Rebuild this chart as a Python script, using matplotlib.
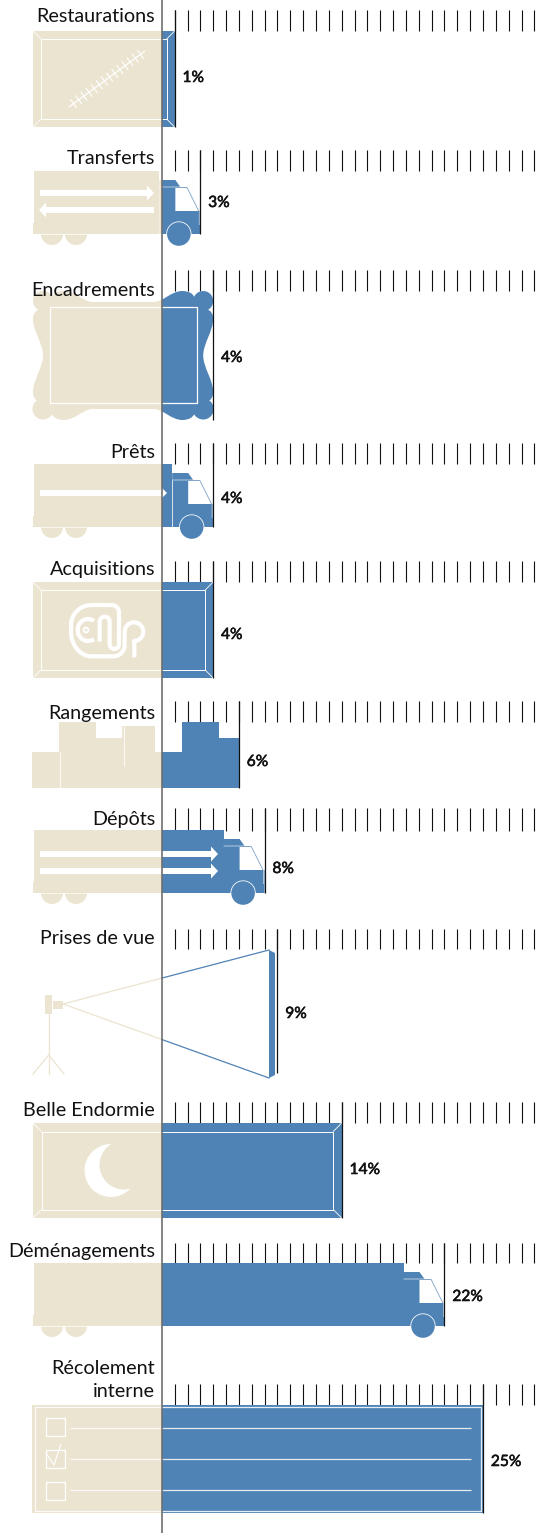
import numpy as np
import matplotlib
matplotlib.use("Agg")
import matplotlib.pyplot as plt
import matplotlib.patheffects as pe
from matplotlib.patches import PathPatch, Rectangle, Polygon
from matplotlib.path import Path
from matplotlib.transforms import Affine2D

# ---- data ----
categories = ["Restaurations", "Transferts", "Encadrements", "Prêts", "Acquisitions",
              "Rangements", "Dépôts", "Prises de vue", "Belle Endormie",
              "Déménagements", "Récolement\ninterne"]
values = [1, 3, 4, 4, 4, 6, 8, 9, 14, 22, 25]
scale_ticks = list(range(1, 30))

# ---- layout (pixels) ----
W, H = 546, 1533
X0, PX = 161.8, 12.85
TICK_TOP = [10, 150, 270, 443, 561, 701, 808, 929, 1102, 1243, 1384]
TICK_BOT = [31, 171, 291, 464, 582, 722, 831, 949, 1123, 1263, 1405]
ROW_BOT = [127, 234, 420, 527, 678, 788, 893, 1073, 1218, 1326, 1513]
LABEL_Y = [17, 159, 290, 452, 570, 713, 819, 939, 1111, 1251, 1380]
VALUE_Y = [78, 203, 358, 499, 635, 762, 869, 1014, 1170, 1297, 1462]
BEIGE, BLUE, WHITE = "#ebe4d1", "#4f83b5", "#ffffff"
INK = "#111111"
FONT = ["Lato", "DejaVu Sans"]

fig = plt.figure(figsize=(W / 100, H / 100), dpi=100)
ax = fig.add_axes([0, 0, 1, 1])
ax.set_xlim(-X0 / PX, (W - X0) / PX)
ax.set_ylim(H, 0)
ax.axis("off")


def u(p):
    return p / PX


def xp(p):
    return (p - X0) / PX


LEFT = xp(33)
left_clip = lambda: Rectangle((ax.get_xlim()[0], 0), -ax.get_xlim()[0], H, transform=ax.transData)
right_clip = lambda: Rectangle((0, 0), ax.get_xlim()[1], H, transform=ax.transData)


def two_tone(path, z=2):
    for col, clip in ((BEIGE, left_clip()), (BLUE, right_clip())):
        p = PathPatch(path, fc=col, ec="none", lw=0, zorder=z)
        ax.add_patch(p)
        p.set_clip_path(clip)


def rect_path(x0, x1, y0, y1):
    return Path([(x0, y0), (x1, y0), (x1, y1), (x0, y1), (x0, y0)], closed=True)


def circle_path(cx, cy, r):
    return Affine2D().scale(u(r), r).translate(cx, cy).transform_path(Path.unit_circle())


def wline(xs, ys, lw=0.7, alpha=1.0, color=WHITE, z=4):
    ax.plot(xs, ys, color=color, lw=lw, alpha=alpha, zorder=z, solid_capstyle="butt")


def white_poly(pts, z=4):
    ax.add_patch(Polygon(pts, closed=True, fc=WHITE, ec="none", lw=0, zorder=z))


def arrow(x0, x1, y, thick=6, head_l=7, head_h=7.5):
    s = 1 if x1 > x0 else -1
    neck = x1 - s * head_l
    white_poly([(xp(x0), y - thick / 2), (xp(neck), y - thick / 2), (xp(neck), y - head_h),
                (xp(x1), y), (xp(neck), y + head_h), (xp(neck), y + thick / 2), (xp(x0), y + thick / 2)])


def frame(v, top, bot, inset=8):
    two_tone(rect_path(LEFT, v, top, bot))
    il, ir, it, ib = LEFT + u(inset), v - u(inset), top + inset, bot - inset
    wline([il, ir, ir, il, il], [it, it, ib, ib, it])
    for (a, b), (c, d) in (((LEFT, top), (il, it)), ((v, top), (ir, it)),
                           ((LEFT, bot), (il, ib)), ((v, bot), (ir, ib))):
        wline([a, c], [b, d], lw=0.6)


def truck(v, bot, divider=False):
    top = bot - 63
    cab = v - u(41)
    two_tone(rect_path(xp(34), cab, top, bot))
    two_tone(rect_path(LEFT, cab, bot - 11, bot))
    pts = [(-41, -54), (-25, -54), (-20, -47), (-13, -47), (-1, -23), (0, -23), (0, 0), (-41, 0)]
    verts = [(v + u(a), bot + b) for a, b in pts]
    two_tone(Path(verts + [verts[0]], closed=True))
    white_poly([(v + u(a), bot + b) for a, b in [(-25, -46), (-13.5, -46), (-2, -23), (-25, -23)]])
    wline([v + u(-41), v + u(-13), v + u(-1), v + u(-1)], [bot - 47, bot - 47, bot - 23, bot - 9], lw=0.7, alpha=0.6)
    if divider:
        wline([cab, cab], [bot - 47, bot], lw=0.7, alpha=0.7)
    for cx in (xp(52), xp(76)):
        two_tone(circle_path(cx, bot, 11), z=1)
    wline([LEFT, cab], [bot + 0.3, bot + 0.3], lw=0.6, alpha=0.8, z=1.5)
    wc = v - u(21.5)
    ax.add_patch(PathPatch(circle_path(wc, bot, 12.6), fc=WHITE, ec="none", zorder=3))
    ax.add_patch(PathPatch(circle_path(wc, bot, 11.8), fc=BLUE, ec="none", zorder=3.5))


def encadrement(v, top, bot):
    L, R = LEFT, v
    ym = (top + bot) / 2
    flat_t, flat_b = top + 11, bot - 11
    side = lambda d: (L + u(d), R - u(d))
    a1, b1 = side(10)
    mx_l, mx_r = side(31)
    verts = [(mx_l, flat_t)]
    codes = [Path.MOVETO]

    def c(*pts):
        for p in pts:
            verts.append(p)
            codes.append(Path.CURVE4)

    def ln(p):
        verts.append(p)
        codes.append(Path.LINETO)

    s1l, s1r = side(60)
    ln((s1r, flat_t))
    c((R - u(50), flat_t), (R - u(42), top), (R - u(31), top))
    c((R - u(24), top), (R - u(20), top + 3), (R - u(19), top + 6))
    ln((R - u(8), top + 17))
    c((R - u(1), top + 20), (R, top + 24), (R, top + 28))
    c((R, top + 40), (R - u(10), ym - 12), (R - u(10), ym))
    c((R - u(10), ym + 12), (R, bot - 40), (R, bot - 28))
    c((R, bot - 24), (R - u(1), bot - 20), (R - u(8), bot - 17))
    ln((R - u(19), bot - 6))
    c((R - u(20), bot - 3), (R - u(24), bot), (R - u(31), bot))
    c((R - u(42), bot), (R - u(50), flat_b), (s1r, flat_b))
    ln((s1l, flat_b))
    c((L + u(50), flat_b), (L + u(42), bot), (L + u(31), bot))
    c((L + u(24), bot), (L + u(20), bot - 3), (L + u(19), bot - 6))
    ln((L + u(8), bot - 17))
    c((L + u(1), bot - 20), (L, bot - 24), (L, bot - 28))
    c((L, bot - 40), (L + u(10), ym + 12), (L + u(10), ym))
    c((L + u(10), ym - 12), (L, top + 40), (L, top + 28))
    c((L, top + 24), (L + u(1), top + 20), (L + u(8), top + 17))
    ln((L + u(19), top + 6))
    c((L + u(20), top + 3), (L + u(24), top), (L + u(31), top))
    c((L + u(42), top), (L + u(50), flat_t), (s1l, flat_t))
    ln((mx_l, flat_t))
    two_tone(Path(verts, codes))
    for cx in (a1, b1):
        two_tone(circle_path(cx, top + 10, 10))
        two_tone(circle_path(cx, bot - 11, 10.5))
    il, ir = L + u(16.5), R - u(16.5)
    wline([il, ir, ir, il, il], [top + 16, top + 16, bot - 17, bot - 17, top + 16], lw=0.9)


def logo():
    def z(x, y):
        return xp(x / 3), 550 + y / 3

    def arc(cx, cy, rx, ry, a0, a1, n=24):
        t = np.radians(np.linspace(a0, a1, n))
        return [(cx + rx * np.cos(k), cy - ry * np.sin(k)) for k in t]

    main = [(403, 322), (403, 272)]
    main += arc(402, 245, 28, 28, -90, 180)
    main += [(374, 285)]
    main += arc(340, 285, 34, 34, 0, -90)
    main += [(275, 319)]
    main += arc(275, 245, 62, 74, -90, -180)
    main += arc(275, 225, 62, 60, 180, 90)
    main += [(335, 165)]
    main += arc(335, 187, 22, 22, 90, 0)
    main += [(357, 283)]
    main += arc(343, 283, 14, 14, 0, -180)
    main += [(329, 215)]
    main += arc(314, 215, 15, 15, 0, 180)
    main += [(299, 275)]
    xy = [z(*p) for p in main]
    wline([p[0] for p in xy], [p[1] for p in xy], lw=3.0)
    c1 = arc(264, 240, 31, 33, 55, 305, 30)
    xy = [z(*p) for p in c1]
    wline([p[0] for p in xy], [p[1] for p in xy], lw=3.0)
    ax.add_patch(PathPatch(circle_path(xp(86), 630, 2.4), fc="none", ec=WHITE, lw=1.4, zorder=4))


def hatch():
    x0, y0, x1, y1 = 69, 107, 145, 51
    wline([xp(x0), xp(x1)], [y0, y1], lw=0.9)
    for f in np.linspace(0.06, 0.94, 14):
        cx, cy = x0 + (x1 - x0) * f, y0 + (y1 - y0) * f
        wline([xp(cx - 3.2), xp(cx + 3.2)], [cy - 4.4, cy + 4.4], lw=0.8)


def boxes(v, bot):
    widths = [27, 37, 26, 33]
    tops = [36, 66, 50, 62]
    x = 32.0
    for rep in range(2):
        for w, t in zip(widths, tops):
            x1 = x + w
            for col, xa, xb in ((BEIGE, x, min(x1, X0)), (BLUE, max(x, X0), x1)):
                if xb > xa:
                    p = Rectangle((xp(xa), bot - t), u(xb - xa), t, fc=col, ec="none", lw=0, zorder=2)
                    ax.add_patch(p)
                    p.set_clip_path(Rectangle((LEFT - u(2), 0), v - LEFT + u(2), H, transform=ax.transData))
            x = x1
    wline([xp(59.5), xp(59.5)], [bot - 36, bot], lw=0.6)
    wline([xp(123.5), xp(123.5)], [bot - 62, bot - 22], lw=0.6)


def camera(v, bot):
    cone_x, cy = xp(63), 1004
    sx = xp(269)
    y_top, y_bot = 950, 1078
    yt0 = cy + (y_top - cy) * (0 - cone_x) / (sx - cone_x)
    yb0 = cy + (y_bot - cy) * (0 - cone_x) / (sx - cone_x)
    ax.plot([cone_x, 0], [cy, yt0], color=BEIGE, lw=0.9, zorder=2)
    ax.plot([cone_x, 0], [cy, yb0], color=BEIGE, lw=0.9, zorder=2)
    ax.plot([0, sx], [yt0, y_top], color=BLUE, lw=0.9, zorder=2)
    ax.plot([0, sx], [yb0, y_bot], color=BLUE, lw=0.9, zorder=2)
    two_tone(Path([(sx, y_top), (sx + u(6), y_top + 3), (sx + u(6), y_bot - 3), (sx, y_bot), (sx, y_top)], closed=True))
    two_tone(rect_path(xp(45), xp(52), 995, 1014))
    two_tone(rect_path(xp(53), xp(63), 1001, 1009))
    tx = xp(48.7)
    ax.plot([tx, tx], [1014, 1074], color=BEIGE, lw=0.9, zorder=2)
    ax.plot([xp(33), tx, xp(64)], [1074, 1055, 1074], color=BEIGE, lw=0.9, zorder=2)


def moon():
    ax.add_patch(PathPatch(circle_path(xp(111), 1170.5, 26.5), fc=WHITE, ec="none", zorder=4))
    ax.add_patch(PathPatch(circle_path(xp(124), 1165, 24.5), fc=BEIGE, ec="none", zorder=4.5))


def checklist(v, top, bot):
    L = xp(32)
    two_tone(rect_path(L, v, top, bot))
    il, ir = xp(34.5), v - u(2)
    wline([il, ir, ir, il, il], [top + 2, top + 2, bot - 2, bot - 2, top + 2], lw=0.9, alpha=0.85)
    for y in (1428, 1459, 1490):
        wline([xp(70), v - u(12)], [y, y], lw=0.9, alpha=0.85)
    for y0 in (1418, 1450, 1482):
        a, b = xp(46), xp(65)
        wline([a, b, b, a, a], [y0, y0, y0 + 18, y0 + 18, y0], lw=0.9)
    wline([xp(46), xp(54), xp(61)], [1453, 1465, 1444], lw=0.8)


# ---- pictograms, all anchored on the values ----
frame(values[0], TICK_BOT[0], ROW_BOT[0])
hatch()
truck(values[1], ROW_BOT[1])
arrow(40, 154, 193)
arrow(154, 39, 210)
encadrement(values[2], TICK_BOT[2], ROW_BOT[2])
truck(values[3], ROW_BOT[3], divider=True)
arrow(40, 167, 493, head_l=5, head_h=5)
frame(values[4], TICK_BOT[4], ROW_BOT[4])
logo()
boxes(values[5], ROW_BOT[5])
truck(values[6], ROW_BOT[6])
arrow(40, 218, 854)
arrow(40, 218, 871)
camera(values[7], ROW_BOT[7])
frame(values[8], TICK_BOT[8], ROW_BOT[8], inset=8.5)
moon()
truck(values[9], ROW_BOT[9])
checklist(values[10], TICK_BOT[10], ROW_BOT[10])

# ---- scale ticks, value lines, texts ----
for i, (cat, val) in enumerate(zip(categories, values)):
    ax.vlines(scale_ticks, TICK_TOP[i], TICK_BOT[i], color=INK, lw=0.8, zorder=1.5)
    ax.vlines(val, TICK_TOP[i], ROW_BOT[i], color=INK, lw=0.9, zorder=6)
    ax.text(xp(155), LABEL_Y[i], cat, ha="right", va="center", family=FONT, fontsize=14.2,
            color=INK, linespacing=1.39)
    t = ax.text(val + u(7.8), VALUE_Y[i], f"{val}%", ha="left", va="center", family=FONT,
                fontsize=11.2, color=INK)
    t.set_path_effects([pe.withStroke(linewidth=0.4, foreground=INK)])

ax.axvline(0, color="#6f6f6f", lw=1.2, zorder=7)

fig.savefig("out.png", dpi=100)
